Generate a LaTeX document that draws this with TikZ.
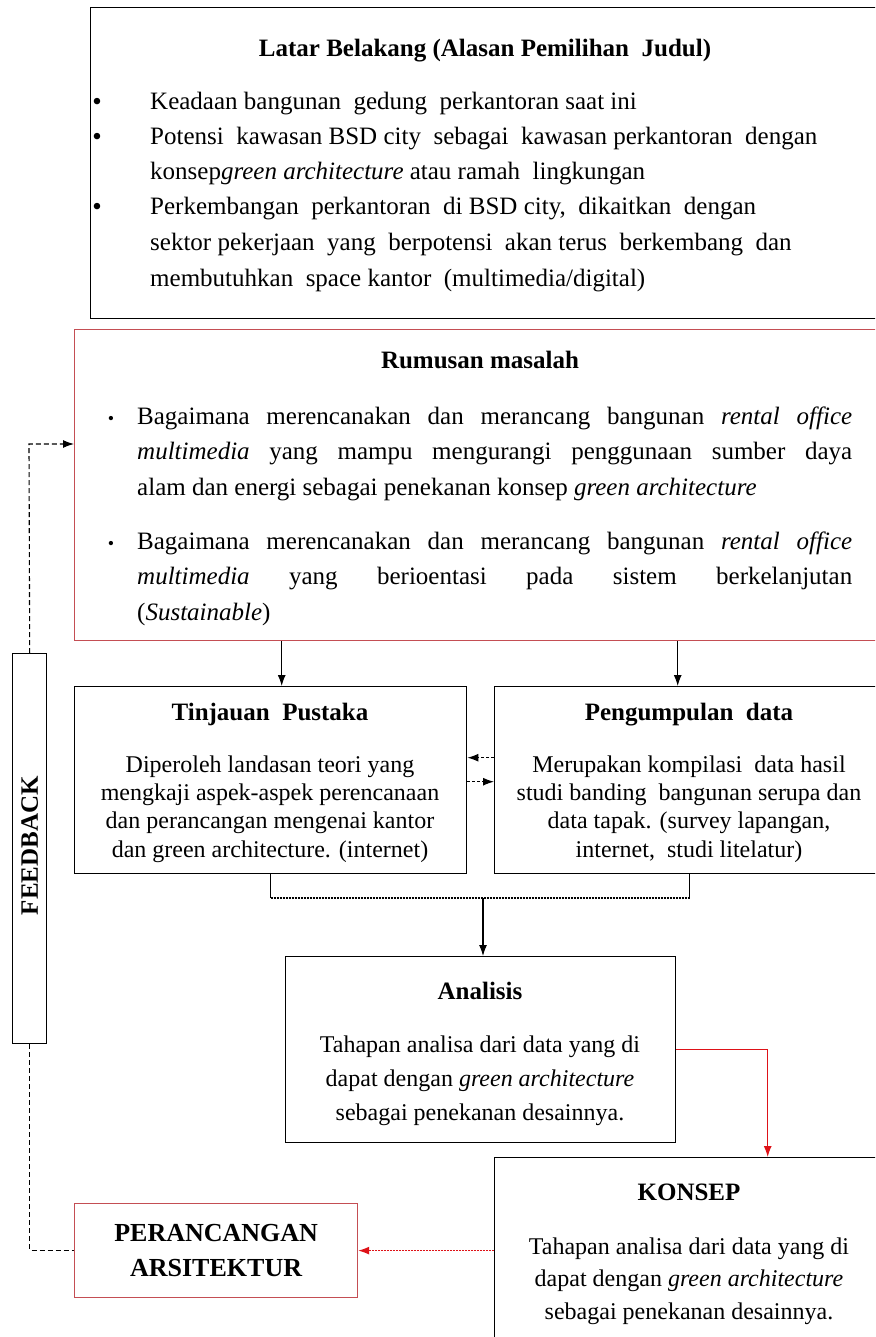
\documentclass[tikz,border=0pt]{standalone}
\usepackage{fontspec}
\setmainfont{Liberation Serif}
\usepackage{tikz}
\usetikzlibrary{arrows.meta,positioning,calc}
\usepackage{xcolor}
\definecolor{boxred}{RGB}{196,78,84}
\definecolor{arrred}{RGB}{222,18,24}
\tikzset{
  box/.style={draw=black, line width=1.4pt, anchor=north west, inner sep=0pt},
  redbox/.style={box, draw=boxred, line width=1.2pt},
  head/.style={font=\bfseries\fontsize{25}{30}\selectfont, anchor=base, inner sep=0pt},
  txt/.style={font=\fontsize{25}{35}\selectfont, align=left, anchor=base west, inner sep=0pt},
  jtxt/.style={font=\fontsize{25}{35.5}\selectfont, text width=715pt, align=justify, anchor=base west, inner sep=0pt},
  smalltxt/.style={font=\fontsize{24}{28.3}\selectfont, align=center, anchor=base, inner sep=0pt},
  dotmark/.style={font=\fontsize{27}{27}\selectfont, anchor=base, inner sep=0pt},
  arrow/.style={-{Latex[length=11pt,width=8pt]}, line width=1.1pt},
  redarrow/.style={arrow, color=arrred},
  dashedarrow/.style={arrow, dash pattern=on 3pt off 2pt},
  reddashedarrow/.style={arrow, color=arrred, dash pattern=on 2pt off 1pt},
  joinline/.style={line width=1.1pt, dash pattern=on 2pt off 1pt},
  fbline/.style={line width=1.1pt, dash pattern=on 5pt off 3pt}
}
\begin{document}
\begin{tikzpicture}[x=1pt,y=-1pt]
\useasboundingbox (0,0) rectangle (875,1337);
\clip (0,0) rectangle (875,1337);
\fill[white] (0,0) rectangle (875,1337);

\node[box, minimum width=794pt, minimum height=311pt] (latar) at (90,7) {};
\node[redbox, minimum width=810pt, minimum height=311pt] (rumusan) at (74,329) {};
\node[box, minimum width=392pt, minimum height=187pt] (tinjauan) at (74,686) {};
\node[box, minimum width=390pt, minimum height=187pt] (pengumpulan) at (494,686) {};
\node[box, minimum width=390pt, minimum height=186pt] (analisis) at (285,956) {};
\node[box, minimum width=390pt, minimum height=200pt] (konsep) at (494,1157) {};
\node[redbox, minimum width=283pt, minimum height=94pt] (perancangan) at (74,1203) {};
\node[box, minimum width=34pt, minimum height=390pt] (feedback) at (12,653) {};

\node[head] (latarhead) at (485,56.5) {Latar Belakang (Alasan Pemilihan\ \ Judul)};
\node[dotmark] (dotA) at (97,111) {•};
\node[dotmark] (dotB) at (97,146) {•};
\node[dotmark] (dotC) at (97,216) {•};
\node[txt] (latarA) at (150,110) {Keadaan bangunan\ \ gedung\ \ perkantoran\ saat ini};
\node[txt, font=\fontsize{25}{34.5}\selectfont] (latarB) at (150,179.5) {Potensi\ \ kawasan BSD city\ \ sebagai\ \ kawasan perkantoran\ \ dengan\\konsep\textit{green architecture} atau ramah\ \ lingkungan};
\node[txt, font=\fontsize{25}{36}\selectfont] (latarC) at (150,287) {Perkembangan\ \ perkantoran\ \ di BSD city,\ \ dikaitkan\ \ dengan\\sektor pekerjaan\ \ yang\ \ berpotensi\ \ akan terus\ \ berkembang\ \ dan\\membutuhkan\ \ space kantor\ \ (multimedia/digital)};

\node[head] (rumusanhead) at (480,368.5) {Rumusan masalah};
\node[dotmark, font=\fontsize{18}{18}\selectfont] (dotD) at (111,424) {•};
\node[dotmark, font=\fontsize{18}{18}\selectfont] (dotE) at (111,549) {•};
\node[jtxt] (rumusanA) at (137,424) {Bagaimana merencanakan dan merancang bangunan \textit{rental office}\linebreak \textit{multimedia} yang mampu mengurangi penggunaan sumber daya\linebreak alam dan energi sebagai penekanan konsep \textit{green architecture}};
\node[jtxt] (rumusanB) at (137,549) {Bagaimana merencanakan dan merancang bangunan \textit{rental office}\linebreak \textit{multimedia} yang berioentasi pada sistem berkelanjutan\linebreak (\textit{Sustainable})};

\node[head] (tinjauanhead) at (270,720.5) {Tinjauan\ \ Pustaka};
\node[smalltxt] (tinjauantext) at (270,857) {Diperoleh landasan teori yang\\mengkaji\ aspek-aspek perencanaan\\dan perancangan mengenai kantor\\dan green architecture. (internet)};
\node[head] (pengumpulanhead) at (689,720.5) {Pengumpulan\ \ data};
\node[smalltxt] (pengumpulantext) at (689,857) {Merupakan kompilasi\ \ data hasil\\studi banding\ \ bangunan serupa dan\\data tapak. (survey lapangan,\\internet,\ \ studi litelatur)};

\node[head] (analisishead) at (480,999.5) {Analisis};
\node[smalltxt, font=\fontsize{24}{34}\selectfont] (analisistext) at (480,1120) {Tahapan analisa dari data yang di\\dapat dengan \textit{green architecture}\\sebagai penekanan desainnya.};
\node[head] (konsephead) at (689,1200.5) {KONSEP};
\node[smalltxt, font=\fontsize{24}{32.5}\selectfont] (konseptext) at (689,1319) {Tahapan analisa dari data yang di\\dapat dengan \textit{green architecture}\\sebagai penekanan desainnya.};
\node[head, font=\bfseries\fontsize{26}{35}\selectfont, align=center, anchor=center] (perancangantext) at (perancangan.center) {PERANCANGAN\\ARSITEKTUR};
\node[head, rotate=90, anchor=center] (feedbacktext) at ([yshift=3pt]feedback.center) {FEEDBACK};

\coordinate (tin-in) at ([xshift=11pt]tinjauan.north);
\coordinate (peng-in) at ([xshift=-12pt]pengumpulan.north);
\draw[arrow] (tin-in |- rumusan.south) -- (tin-in);
\draw[arrow] (peng-in |- rumusan.south) -- (peng-in);

\coordinate (swapA) at ([yshift=22.5pt]pengumpulan.west);
\coordinate (swapB) at ([yshift=-1.5pt]tinjauan.east);
\draw[dashedarrow] (swapA) -- (swapA -| tinjauan.east);
\draw[dashedarrow] (swapB) -- (swapB -| pengumpulan.west);

\coordinate (join) at (483,898);
\draw[line width=1.1pt] (tinjauan.south) -- (tinjauan.south |- join);
\draw[line width=1.1pt] (pengumpulan.south) -- (pengumpulan.south |- join);
\draw[joinline] (tinjauan.south |- join) -- (pengumpulan.south |- join);
\draw[arrow] (join) -- (join |- analisis.north);

\draw[redarrow] (analisis.east) -| ([xshift=78pt]konsep.north);
\draw[reddashedarrow] (konsep.west |- perancangan.east) -- (perancangan.east);

\coordinate (fbturn) at (29,444);
\draw[fbline, -{Latex[length=11pt,width=8pt]}] (feedback.north) -- (fbturn) -- (fbturn -| rumusan.west);
\draw[fbline] (feedback.south) |- (perancangan.west);
\end{tikzpicture}
\end{document}
